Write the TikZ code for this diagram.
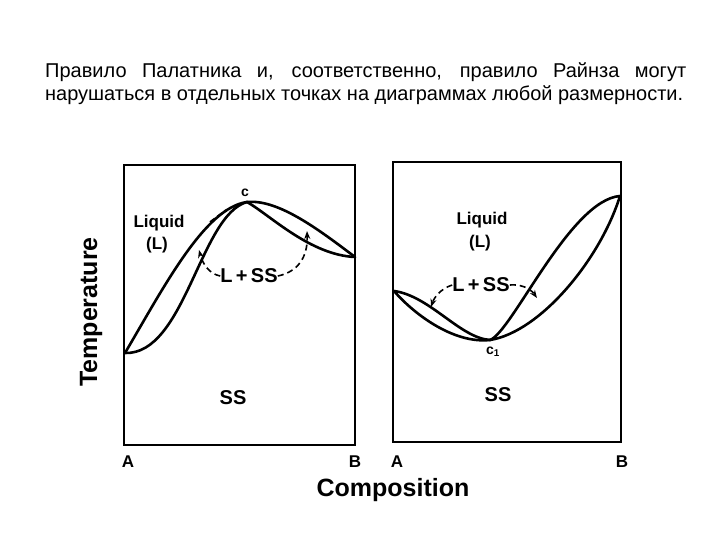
\documentclass[tikz,border=0pt]{standalone}
\usepackage{fontspec}
\setmainfont{Liberation Sans}
\usetikzlibrary{arrows.meta}
\tikzset{
  frame/.style={line width=2pt},
  curve/.style={line width=2.6pt, line cap=round},
  lbl/.style={font=\fontsize{17}{17}\selectfont\bfseries, inner sep=0pt},
  big/.style={font=\fontsize{20}{20}\selectfont\bfseries, inner sep=0pt},
  axis/.style={font=\fontsize{25}{25}\selectfont\bfseries, inner sep=0pt},
  corner/.style={font=\fontsize{17}{17}\selectfont\bfseries, inner sep=0pt},
  dasharrow/.style={line width=1.6pt, dash pattern=on 6pt off 4pt, -{Stealth[length=8pt,width=6pt]}},
  title/.style={font=\fontsize{20}{20}\selectfont, inner sep=0pt, anchor=base west}
}
\begin{document}
\begin{tikzpicture}[x=1pt,y=-1pt]
\useasboundingbox (0,0) rectangle (720,540);
% title
\node[title] (t1) at (45,78) {\makebox[641pt][s]{Правило Палатника и, соответственно, правило Райнза могут}};
\node[title] (t2) at (45,101) {\resizebox{638pt}{!}{нарушаться в отдельных точках на диаграммах любой размерности.}};
% left diagram
\draw[frame] (124,165) rectangle (355,445);
\coordinate (la) at (125,353);
\coordinate (lc) at (247,202);
\coordinate (lb) at (355,257);
\draw[curve] (la) .. controls (165,285) and (205,208) .. (lc);
\draw[curve] (la) .. controls (185,355) and (200,215) .. (lc);
\draw[curve] (lc) .. controls (278,199) and (318,229) .. (lb);
\draw[curve] (lc) .. controls (270,215) and (310,255) .. (lb);
\draw[line width=1.8pt, dash pattern=on 6pt off 3pt] (210,222) -- (226,210);
\node[lbl] (liqL) at (159,223) {Liquid};
\node[lbl] (lL) at (157,245) {(L)};
\node[big] (lss) at (249,276) {L\,+\,SS};
\node[lbl, font=\fontsize{14}{14}\selectfont\bfseries] (c) at (245,193) {c};
\node[big] (ssL) at (233,398) {SS};
\coordinate (ta1) at (199,250);
\coordinate (ta2) at (307,231);
\draw[dasharrow] (lss.west) .. controls (210,274) and (203,265) .. (ta1);
\draw[dasharrow] (lss.east) .. controls (297,272) and (308,258) .. (ta2);
% right diagram
\draw[frame] (393,162) rectangle (621,442);
\coordinate (ra) at (394,291);
\coordinate (rc) at (490,340);
\coordinate (rb) at (620,196);
\draw[curve] (ra) .. controls (430,296) and (460,338) .. (rc);
\draw[curve] (ra) .. controls (412,312) and (452,344) .. (rc);
\draw[curve] (rc) .. controls (512,332) and (570,200) .. (rb);
\draw[curve] (rc) .. controls (540,332) and (600,260) .. (rb);
\node[lbl] (liqR) at (482,220) {Liquid};
\node[lbl] (rL) at (480,243) {(L)};
\node[big] (rss) at (481,285) {L\,+\,SS};
\node[lbl, font=\fontsize{14}{14}\selectfont\bfseries] (c1) at (493,352) {c$_{\mathbf 1}$};
\node[big] (ssR) at (498,395) {SS};
\coordinate (tb1) at (431,307);
\coordinate (tb2) at (537,298);
\draw[dasharrow] (rss.west) .. controls (440,289) and (434,298) .. (tb1);
\draw[dasharrow] (rss.east) .. controls (520,284) and (530,288) .. (tb2);
% axes labels
\node[corner] (A1) at (128,462) {A};
\node[corner] (B1) at (355,462) {B};
\node[corner] (A2) at (397,462) {A};
\node[corner] (B2) at (622,462) {B};
\node[axis] (comp) at (393,490) {Composition};
\node[axis, rotate=90] (temp) at (91,312) {Temperature};
\end{tikzpicture}
\end{document}
